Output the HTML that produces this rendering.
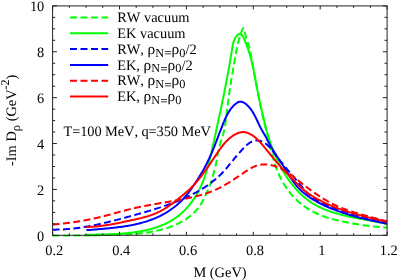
<!DOCTYPE html>
<html><head><meta charset="utf-8"><title>plot</title>
<style>
html,body{margin:0;padding:0;background:#fff;}
body{width:399px;height:280px;position:relative;overflow:hidden;font-family:"Liberation Serif",serif;}
svg text{font-family:"Liberation Serif",serif;fill:#000;font-kerning:none;text-rendering:geometricPrecision;}
</style></head><body>
<svg width="399" height="280" viewBox="0 0 399 280" style="position:absolute;left:0;top:0;will-change:transform">
<defs><clipPath id="c"><rect x="52.6" y="5.9" width="334.5" height="230.8"/></clipPath></defs>
<g clip-path="url(#c)" fill="none" stroke-width="2" stroke-linejoin="round">
<path d="M52.5,235.9 L53.7,235.9 L55.0,235.8 L56.2,235.8 L57.5,235.8 L58.7,235.8 L60.0,235.8 L61.2,235.8 L62.4,235.8 L63.7,235.7 L64.9,235.7 L66.2,235.7 L67.4,235.7 L68.6,235.7 L69.9,235.7 L71.1,235.7 L72.4,235.7 L73.6,235.6 L74.8,235.6 L76.1,235.6 L77.3,235.6 L78.6,235.6 L79.8,235.6 L81.0,235.6 L82.3,235.6 L83.5,235.5 L84.8,235.5 L86.0,235.5 L87.2,235.5 L88.5,235.5 L89.7,235.5 L91.0,235.4 L92.2,235.4 L93.4,235.4 L94.7,235.4 L95.9,235.4 L97.1,235.3 L98.4,235.3 L99.6,235.3 L100.9,235.2 L102.1,235.2 L103.3,235.2 L104.6,235.2 L105.8,235.1 L107.1,235.1 L108.3,235.1 L109.5,235.0 L110.8,235.0 L112.0,234.9 L113.3,234.9 L114.5,234.9 L115.7,234.8 L117.0,234.8 L118.2,234.7 L119.5,234.7 L120.7,234.6 L122.0,234.6 L123.2,234.5 L124.4,234.4 L125.7,234.4 L126.9,234.3 L128.2,234.3 L129.4,234.2 L130.7,234.1 L131.9,234.0 L133.1,233.9 L134.4,233.8 L135.6,233.7 L136.9,233.6 L138.1,233.5 L139.3,233.4 L140.6,233.3 L141.8,233.2 L143.0,233.0 L144.3,232.9 L145.5,232.7 L146.7,232.5 L148.0,232.4 L149.2,232.2 L150.4,232.0 L151.6,231.8 L152.8,231.6 L154.0,231.3 L155.3,231.1 L156.5,230.8 L157.7,230.6 L158.9,230.3 L160.1,230.0 L161.3,229.7 L162.5,229.4 L163.6,229.1 L164.8,228.7 L166.0,228.4 L167.2,228.0 L168.4,227.6 L169.5,227.2 L170.7,226.7 L171.9,226.3 L173.0,225.8 L174.2,225.4 L175.3,224.9 L176.4,224.4 L177.6,223.8 L178.7,223.3 L179.8,222.7 L180.9,222.1 L182.0,221.5 L183.1,220.9 L184.2,220.2 L185.3,219.6 L186.3,218.9 L187.3,218.2 L188.4,217.4 L189.4,216.7 L190.3,215.9 L191.3,215.1 L192.2,214.3 L193.2,213.5 L194.1,212.6 L194.9,211.8 L195.8,210.9 L196.6,210.0 L197.4,209.0 L198.2,208.1 L198.9,207.1 L199.6,206.1 L200.3,205.0 L201.0,204.0 L201.6,202.9 L202.2,201.8 L202.8,200.8 L203.4,199.7 L204.0,198.6 L204.6,197.5 L205.1,196.3 L205.6,195.2 L206.2,194.1 L206.7,193.0 L207.2,191.8 L207.7,190.7 L208.2,189.6 L208.6,188.4 L209.1,187.3 L209.5,186.1 L209.9,184.9 L210.4,183.8 L210.8,182.6 L211.2,181.4 L211.6,180.2 L212.0,179.1 L212.3,177.9 L212.7,176.7 L213.0,175.5 L213.4,174.3 L213.7,173.1 L214.0,171.9 L214.3,170.7 L214.6,169.5 L214.9,168.3 L215.2,167.1 L215.5,165.9 L215.8,164.7 L216.0,163.5 L216.3,162.2 L216.5,161.0 L216.8,159.8 L217.0,158.6 L217.2,157.4 L217.4,156.1 L217.7,154.9 L217.9,153.7 L218.1,152.5 L218.4,151.3 L218.6,150.1 L218.9,148.8 L219.1,147.6 L219.4,146.4 L219.7,145.2 L220.1,144.0 L220.4,142.8 L220.8,141.6 L221.2,140.5 L221.5,139.3 L221.9,138.1 L222.3,136.9 L222.7,135.7 L223.0,134.5 L223.4,133.3 L223.7,132.1 L224.0,130.9 L224.3,129.7 L224.5,128.5 L224.8,127.3 L225.0,126.1 L225.2,124.9 L225.4,123.7 L225.6,122.4 L225.7,121.2 L225.9,120.0 L226.1,118.8 L226.2,117.5 L226.3,116.3 L226.5,115.1 L226.6,113.8 L226.8,112.6 L226.9,111.4 L227.0,110.1 L227.2,108.9 L227.3,107.6 L227.5,106.4 L227.6,105.2 L227.8,103.9 L227.9,102.7 L228.1,101.5 L228.3,100.2 L228.4,99.0 L228.6,97.8 L228.8,96.5 L229.0,95.3 L229.1,94.1 L229.3,92.8 L229.5,91.6 L229.7,90.4 L229.9,89.1 L230.1,87.9 L230.3,86.7 L230.5,85.4 L230.7,84.2 L230.9,83.0 L231.0,81.7 L231.2,80.5 L231.4,79.3 L231.7,78.1 L231.9,76.8 L232.1,75.6 L232.3,74.4 L232.5,73.2 L232.7,71.9 L232.9,70.7 L233.1,69.5 L233.3,68.3 L233.5,67.1 L233.7,65.9 L233.9,64.7 L234.1,63.4 L234.3,62.2 L234.5,61.0 L234.7,59.8 L235.0,58.6 L235.2,57.4 L235.4,56.2 L235.6,55.0 L235.8,53.8 L236.0,52.6 L236.3,51.4 L236.5,50.2 L236.7,49.0 L237.0,47.7 L237.3,46.5 L237.5,45.3 L237.8,44.1 L238.1,42.9 L238.4,41.7 L238.8,40.4 L239.1,39.2 L239.5,37.9 L239.8,36.7 L240.2,35.5 L240.6,34.2 L241.1,32.9 L241.5,31.7 L242.0,30.4 L242.5,29.3 L242.9,28.5 L243.3,28.1 L243.7,28.3 L244.0,28.9 L244.3,30.0 L244.6,31.3 L244.9,32.8 L245.2,34.3 L245.6,35.8 L245.9,37.1 L246.3,38.4 L246.7,39.6 L247.2,40.8 L247.6,41.9 L248.0,43.1 L248.4,44.2 L248.7,45.3 L249.1,46.5 L249.4,47.7 L249.7,48.9 L250.0,50.0 L250.2,51.3 L250.5,52.5 L250.7,53.7 L251.0,54.9 L251.2,56.1 L251.4,57.4 L251.7,58.6 L251.9,59.8 L252.1,61.0 L252.3,62.3 L252.6,63.5 L252.8,64.7 L253.0,65.9 L253.2,67.2 L253.4,68.4 L253.6,69.6 L253.9,70.8 L254.1,72.1 L254.3,73.3 L254.5,74.5 L254.7,75.7 L255.0,77.0 L255.2,78.2 L255.4,79.4 L255.6,80.6 L255.8,81.8 L256.0,83.1 L256.3,84.3 L256.5,85.5 L256.7,86.7 L256.9,87.9 L257.2,89.2 L257.4,90.4 L257.6,91.6 L257.9,92.8 L258.1,94.0 L258.3,95.2 L258.6,96.5 L258.8,97.7 L259.0,98.9 L259.3,100.1 L259.5,101.3 L259.8,102.5 L260.0,103.7 L260.3,105.0 L260.6,106.2 L260.8,107.4 L261.1,108.6 L261.3,109.8 L261.6,111.0 L261.9,112.2 L262.2,113.4 L262.4,114.6 L262.7,115.8 L263.0,117.1 L263.3,118.3 L263.6,119.5 L263.8,120.7 L264.1,121.9 L264.4,123.1 L264.7,124.3 L265.0,125.5 L265.3,126.7 L265.6,127.9 L265.9,129.1 L266.2,130.3 L266.5,131.5 L266.8,132.7 L267.1,133.9 L267.4,135.1 L267.7,136.3 L268.0,137.5 L268.3,138.8 L268.6,140.0 L269.0,141.2 L269.3,142.4 L269.6,143.6 L269.9,144.8 L270.2,146.0 L270.5,147.2 L270.8,148.4 L271.1,149.6 L271.4,150.8 L271.7,152.0 L272.0,153.2 L272.3,154.4 L272.6,155.6 L272.9,156.7 L273.2,157.9 L273.5,159.1 L273.8,160.3 L274.2,161.5 L274.5,162.7 L274.9,163.9 L275.3,165.0 L275.7,166.2 L276.1,167.4 L276.5,168.6 L276.9,169.7 L277.4,170.9 L277.9,172.0 L278.4,173.2 L278.9,174.3 L279.4,175.5 L279.9,176.6 L280.4,177.7 L281.0,178.8 L281.6,179.9 L282.2,181.0 L282.8,182.1 L283.4,183.2 L284.1,184.3 L284.7,185.3 L285.4,186.4 L286.1,187.4 L286.8,188.5 L287.5,189.5 L288.2,190.5 L289.0,191.5 L289.7,192.4 L290.5,193.4 L291.3,194.4 L292.1,195.3 L292.9,196.2 L293.8,197.1 L294.6,198.0 L295.5,198.9 L296.4,199.8 L297.3,200.6 L298.2,201.5 L299.1,202.3 L300.1,203.1 L301.0,203.9 L302.0,204.6 L303.0,205.4 L304.0,206.1 L305.0,206.8 L306.0,207.5 L307.0,208.2 L308.1,208.9 L309.1,209.5 L310.2,210.1 L311.3,210.7 L312.4,211.3 L313.5,211.9 L314.6,212.4 L315.7,213.0 L316.8,213.5 L317.9,214.0 L319.1,214.5 L320.2,215.0 L321.4,215.4 L322.5,215.8 L323.7,216.3 L324.9,216.7 L326.0,217.1 L327.2,217.5 L328.4,217.9 L329.6,218.2 L330.8,218.6 L332.0,218.9 L333.2,219.2 L334.4,219.6 L335.6,219.9 L336.8,220.2 L338.0,220.5 L339.3,220.8 L340.5,221.0 L341.7,221.3 L342.9,221.6 L344.1,221.8 L345.4,222.1 L346.6,222.3 L347.8,222.6 L349.0,222.8 L350.2,223.0 L351.5,223.3 L352.7,223.5 L353.9,223.7 L355.1,223.9 L356.3,224.1 L357.5,224.3 L358.8,224.5 L360.0,224.7 L361.2,224.9 L362.4,225.0 L363.7,225.2 L364.9,225.4 L366.1,225.5 L367.3,225.7 L368.5,225.9 L369.8,226.0 L371.0,226.1 L372.2,226.3 L373.5,226.4 L374.7,226.6 L375.9,226.7 L377.2,226.8 L378.4,226.9 L379.6,227.0 L380.9,227.1 L382.1,227.2 L383.4,227.3 L384.6,227.4 L385.9,227.5 L387.1,227.6" stroke="#00ff00" stroke-dasharray="6.95 3.47"/>
<path d="M86.3,234.9 L87.4,234.9 L88.6,234.8 L89.7,234.8 L90.8,234.8 L91.9,234.8 L93.1,234.7 L94.2,234.7 L95.3,234.7 L96.5,234.6 L97.6,234.6 L98.7,234.6 L99.8,234.6 L100.9,234.5 L102.0,234.5 L103.2,234.5 L104.3,234.4 L105.4,234.4 L106.5,234.4 L107.6,234.3 L108.7,234.3 L109.8,234.3 L110.9,234.2 L112.1,234.2 L113.2,234.1 L114.3,234.1 L115.4,234.0 L116.5,233.9 L117.6,233.9 L118.7,233.8 L119.8,233.7 L120.9,233.7 L122.0,233.6 L123.2,233.5 L124.3,233.4 L125.4,233.3 L126.5,233.2 L127.6,233.1 L128.7,233.0 L129.8,232.8 L131.0,232.7 L132.1,232.6 L133.2,232.4 L134.3,232.3 L135.4,232.1 L136.6,232.0 L137.7,231.8 L138.8,231.6 L139.9,231.4 L141.0,231.2 L142.1,231.0 L143.3,230.8 L144.4,230.6 L145.5,230.3 L146.6,230.1 L147.7,229.8 L148.8,229.5 L149.9,229.3 L151.0,229.0 L152.1,228.7 L153.1,228.4 L154.2,228.0 L155.3,227.7 L156.4,227.4 L157.4,227.0 L158.5,226.6 L159.5,226.2 L160.6,225.8 L161.6,225.4 L162.6,225.0 L163.7,224.6 L164.7,224.1 L165.7,223.6 L166.7,223.2 L167.7,222.7 L168.7,222.1 L169.7,221.6 L170.6,221.1 L171.6,220.5 L172.5,219.9 L173.5,219.3 L174.4,218.7 L175.3,218.1 L176.2,217.5 L177.1,216.8 L178.0,216.1 L178.9,215.4 L179.8,214.7 L180.6,214.0 L181.5,213.3 L182.3,212.5 L183.1,211.7 L183.9,211.0 L184.7,210.2 L185.5,209.4 L186.3,208.5 L187.0,207.7 L187.8,206.9 L188.5,206.0 L189.2,205.1 L190.0,204.3 L190.6,203.4 L191.3,202.5 L192.0,201.6 L192.7,200.7 L193.3,199.7 L194.0,198.8 L194.6,197.9 L195.2,196.9 L195.8,196.0 L196.4,195.0 L196.9,194.0 L197.5,193.1 L198.0,192.1 L198.6,191.1 L199.1,190.1 L199.6,189.1 L200.1,188.1 L200.5,187.1 L201.0,186.1 L201.5,185.1 L201.9,184.0 L202.3,183.0 L202.8,182.0 L203.2,180.9 L203.6,179.9 L204.0,178.8 L204.4,177.8 L204.7,176.7 L205.1,175.7 L205.5,174.6 L205.8,173.6 L206.2,172.5 L206.5,171.4 L206.8,170.4 L207.1,169.3 L207.4,168.2 L207.8,167.1 L208.1,166.0 L208.3,165.0 L208.6,163.9 L208.9,162.8 L209.2,161.7 L209.5,160.6 L209.7,159.5 L210.0,158.4 L210.3,157.3 L210.5,156.2 L210.8,155.1 L211.0,154.0 L211.3,152.9 L211.5,151.8 L211.8,150.7 L212.0,149.6 L212.3,148.5 L212.5,147.4 L212.8,146.3 L213.0,145.2 L213.2,144.1 L213.5,143.0 L213.7,141.9 L214.0,140.8 L214.2,139.7 L214.4,138.7 L214.7,137.6 L214.9,136.5 L215.2,135.4 L215.4,134.3 L215.6,133.2 L215.9,132.1 L216.1,131.0 L216.3,129.9 L216.6,128.8 L216.8,127.7 L217.1,126.6 L217.3,125.5 L217.5,124.4 L217.8,123.4 L218.0,122.3 L218.2,121.2 L218.5,120.1 L218.7,119.0 L218.9,117.9 L219.2,116.8 L219.4,115.7 L219.6,114.6 L219.9,113.5 L220.1,112.4 L220.3,111.4 L220.6,110.3 L220.8,109.2 L221.0,108.1 L221.3,107.0 L221.5,105.9 L221.7,104.8 L221.9,103.7 L222.2,102.6 L222.4,101.5 L222.6,100.4 L222.8,99.3 L223.1,98.3 L223.3,97.2 L223.5,96.1 L223.7,95.0 L224.0,93.9 L224.2,92.8 L224.4,91.7 L224.6,90.6 L224.8,89.5 L225.0,88.4 L225.3,87.3 L225.5,86.2 L225.7,85.1 L225.9,84.0 L226.1,82.9 L226.3,81.8 L226.5,80.7 L226.8,79.6 L227.0,78.5 L227.2,77.4 L227.4,76.3 L227.6,75.2 L227.8,74.1 L228.0,73.0 L228.2,71.9 L228.4,70.8 L228.6,69.6 L228.8,68.5 L229.0,67.4 L229.2,66.3 L229.4,65.2 L229.6,64.1 L229.8,63.0 L230.0,61.8 L230.2,60.7 L230.4,59.6 L230.5,58.5 L230.7,57.4 L230.9,56.2 L231.1,55.1 L231.3,54.0 L231.5,52.9 L231.7,51.7 L231.8,50.6 L232.0,49.5 L232.2,48.3 L232.4,47.2 L232.6,46.1 L232.8,45.0 L233.0,43.9 L233.3,42.8 L233.6,41.8 L234.0,40.7 L234.4,39.7 L234.8,38.7 L235.3,37.8 L235.9,36.9 L236.6,36.1 L237.3,35.3 L238.1,34.5 L239.0,34.1 L240.0,34.0 L241.0,34.4 L241.9,35.1 L242.6,35.9 L243.3,36.9 L243.8,38.0 L244.2,39.2 L244.7,40.3 L245.1,41.4 L245.5,42.5 L246.0,43.5 L246.4,44.6 L246.8,45.6 L247.2,46.7 L247.6,47.7 L248.0,48.7 L248.3,49.8 L248.7,50.8 L249.0,51.9 L249.3,52.9 L249.7,54.0 L250.0,55.0 L250.3,56.1 L250.6,57.2 L250.9,58.2 L251.1,59.3 L251.4,60.4 L251.7,61.5 L251.9,62.6 L252.2,63.6 L252.4,64.7 L252.7,65.8 L252.9,66.9 L253.1,68.0 L253.3,69.1 L253.6,70.2 L253.8,71.3 L254.0,72.4 L254.2,73.5 L254.4,74.6 L254.6,75.7 L254.9,76.8 L255.1,77.9 L255.3,79.0 L255.5,80.1 L255.7,81.2 L255.9,82.3 L256.1,83.4 L256.3,84.5 L256.6,85.6 L256.8,86.8 L257.0,87.9 L257.2,89.0 L257.4,90.1 L257.6,91.2 L257.9,92.3 L258.1,93.4 L258.3,94.5 L258.5,95.6 L258.7,96.7 L259.0,97.8 L259.2,98.9 L259.4,99.9 L259.6,101.0 L259.9,102.1 L260.1,103.2 L260.3,104.3 L260.6,105.4 L260.8,106.5 L261.1,107.6 L261.3,108.7 L261.5,109.8 L261.8,110.9 L262.0,112.0 L262.3,113.1 L262.5,114.2 L262.8,115.3 L263.0,116.4 L263.3,117.4 L263.6,118.5 L263.8,119.6 L264.1,120.7 L264.4,121.8 L264.6,122.9 L264.9,124.0 L265.2,125.1 L265.5,126.1 L265.8,127.2 L266.1,128.3 L266.3,129.4 L266.6,130.5 L266.9,131.5 L267.3,132.6 L267.6,133.7 L267.9,134.7 L268.2,135.8 L268.5,136.9 L268.9,138.0 L269.2,139.0 L269.5,140.1 L269.9,141.1 L270.2,142.2 L270.6,143.3 L271.0,144.3 L271.3,145.4 L271.7,146.4 L272.1,147.5 L272.5,148.5 L272.9,149.6 L273.3,150.6 L273.7,151.6 L274.1,152.7 L274.5,153.7 L275.0,154.8 L275.4,155.8 L275.8,156.8 L276.3,157.8 L276.7,158.9 L277.2,159.9 L277.7,160.9 L278.2,161.9 L278.7,162.9 L279.2,163.9 L279.7,164.9 L280.2,165.9 L280.7,166.9 L281.2,167.9 L281.8,168.9 L282.3,169.9 L282.9,170.9 L283.5,171.8 L284.0,172.8 L284.6,173.8 L285.2,174.7 L285.8,175.7 L286.4,176.6 L287.1,177.6 L287.7,178.5 L288.3,179.4 L289.0,180.4 L289.6,181.3 L290.3,182.2 L291.0,183.1 L291.7,184.0 L292.4,184.8 L293.1,185.7 L293.8,186.6 L294.5,187.4 L295.2,188.3 L296.0,189.1 L296.7,190.0 L297.5,190.8 L298.3,191.6 L299.0,192.4 L299.8,193.2 L300.6,193.9 L301.4,194.7 L302.3,195.4 L303.1,196.2 L303.9,196.9 L304.8,197.6 L305.6,198.3 L306.5,199.0 L307.4,199.7 L308.3,200.4 L309.2,201.0 L310.1,201.7 L311.0,202.3 L311.9,202.9 L312.9,203.5 L313.8,204.1 L314.8,204.6 L315.7,205.2 L316.7,205.7 L317.7,206.2 L318.7,206.8 L319.7,207.2 L320.7,207.7 L321.8,208.2 L322.8,208.6 L323.8,209.1 L324.9,209.5 L325.9,209.9 L327.0,210.3 L328.0,210.7 L329.1,211.1 L330.2,211.5 L331.3,211.9 L332.3,212.2 L333.4,212.5 L334.5,212.9 L335.6,213.2 L336.7,213.5 L337.8,213.8 L338.9,214.1 L340.0,214.4 L341.1,214.7 L342.2,215.0 L343.3,215.3 L344.4,215.5 L345.5,215.8 L346.6,216.0 L347.6,216.3 L348.7,216.5 L349.8,216.8 L350.9,217.0 L352.0,217.2 L353.1,217.5 L354.2,217.7 L355.3,217.9 L356.4,218.1 L357.4,218.3 L358.5,218.5 L359.6,218.7 L360.7,218.9 L361.8,219.1 L362.9,219.3 L364.0,219.5 L365.1,219.7 L366.2,219.9 L367.2,220.1 L368.3,220.3 L369.4,220.5 L370.5,220.7 L371.6,220.9 L372.7,221.1 L373.8,221.3 L374.9,221.5 L376.0,221.7 L377.1,221.9 L378.2,222.2 L379.3,222.4 L380.4,222.6 L381.5,222.8 L382.7,223.0 L383.8,223.2 L384.9,223.5 L386.0,223.7 L387.1,223.9" stroke="#00ff00"/>
<path d="M52.6,229.7 L53.4,229.7 L54.1,229.7 L54.9,229.7 L55.7,229.7 L56.5,229.6 L57.3,229.6 L58.1,229.6 L58.9,229.6 L59.7,229.6 L60.5,229.5 L61.2,229.5 L62.0,229.5 L62.8,229.4 L63.6,229.4 L64.4,229.3 L65.2,229.3 L66.0,229.2 L66.7,229.1 L67.5,229.1 L68.3,229.0 L69.1,228.9 L69.9,228.9 L70.6,228.8 L71.4,228.7 L72.2,228.6 L73.0,228.6 L73.7,228.5 L74.5,228.4 L75.3,228.3 L76.1,228.2 L76.9,228.1 L77.6,228.0 L78.4,227.9 L79.2,227.8 L79.9,227.7 L80.7,227.5 L81.5,227.4 L82.3,227.3 L83.0,227.2 L83.8,227.1 L84.6,226.9 L85.3,226.8 L86.1,226.7 L86.9,226.5 L87.7,226.4 L88.4,226.3 L89.2,226.1 L90.0,226.0 L90.7,225.8 L91.5,225.7 L92.3,225.5 L93.0,225.4 L93.8,225.2 L94.5,225.1 L95.3,224.9 L96.1,224.8 L96.8,224.6 L97.6,224.4 L98.4,224.3 L99.1,224.1 L99.9,223.9 L100.7,223.8 L101.4,223.6 L102.2,223.4 L102.9,223.3 L103.7,223.1 L104.5,222.9 L105.2,222.7 L106.0,222.5 L106.7,222.4 L107.5,222.2 L108.3,222.0 L109.0,221.8 L109.8,221.6 L110.5,221.4 L111.3,221.2 L112.1,221.1 L112.8,220.9 L113.6,220.7 L114.3,220.5 L115.1,220.3 L115.9,220.1 L116.6,219.9 L117.4,219.7 L118.1,219.5 L118.9,219.3 L119.6,219.1 L120.4,218.9 L121.2,218.7 L121.9,218.5 L122.7,218.3 L123.4,218.1 L124.2,217.9 L124.9,217.7 L125.7,217.5 L126.4,217.3 L127.2,217.1 L128.0,216.8 L128.7,216.6 L129.5,216.4 L130.2,216.2 L131.0,216.0 L131.7,215.8 L132.5,215.6 L133.3,215.4 L134.0,215.2 L134.8,215.0 L135.5,214.8 L136.3,214.6 L137.0,214.3 L137.8,214.1 L138.5,213.9 L139.3,213.7 L140.0,213.5 L140.8,213.3 L141.6,213.1 L142.3,212.9 L143.1,212.6 L143.8,212.4 L144.6,212.2 L145.3,212.0 L146.1,211.8 L146.8,211.5 L147.6,211.3 L148.3,211.1 L149.1,210.9 L149.8,210.7 L150.6,210.4 L151.3,210.2 L152.1,210.0 L152.8,209.7 L153.6,209.5 L154.3,209.3 L155.1,209.0 L155.8,208.8 L156.6,208.6 L157.3,208.3 L158.1,208.1 L158.8,207.9 L159.5,207.6 L160.3,207.4 L161.0,207.1 L161.8,206.9 L162.5,206.6 L163.3,206.4 L164.0,206.1 L164.7,205.9 L165.5,205.6 L166.2,205.3 L167.0,205.1 L167.7,204.8 L168.4,204.6 L169.2,204.3 L169.9,204.0 L170.6,203.8 L171.4,203.5 L172.1,203.2 L172.8,202.9 L173.5,202.6 L174.3,202.4 L175.0,202.1 L175.7,201.8 L176.5,201.5 L177.2,201.2 L177.9,200.9 L178.6,200.6 L179.4,200.3 L180.1,200.0 L180.8,199.7 L181.5,199.4 L182.2,199.1 L182.9,198.8 L183.7,198.5 L184.4,198.1 L185.1,197.8 L185.8,197.5 L186.5,197.2 L187.2,196.8 L187.9,196.5 L188.6,196.2 L189.3,195.8 L190.0,195.5 L190.7,195.1 L191.4,194.8 L192.1,194.4 L192.8,194.1 L193.5,193.7 L194.2,193.4 L194.9,193.0 L195.6,192.6 L196.3,192.3 L197.0,191.9 L197.7,191.5 L198.3,191.1 L199.0,190.7 L199.7,190.3 L200.4,189.9 L201.0,189.5 L201.7,189.1 L202.4,188.7 L203.0,188.3 L203.7,187.9 L204.4,187.5 L205.0,187.1 L205.7,186.6 L206.3,186.2 L207.0,185.8 L207.6,185.3 L208.2,184.9 L208.9,184.4 L209.5,184.0 L210.1,183.5 L210.8,183.0 L211.4,182.6 L212.0,182.1 L212.6,181.6 L213.2,181.1 L213.8,180.6 L214.5,180.1 L215.1,179.6 L215.7,179.1 L216.2,178.6 L216.8,178.1 L217.4,177.6 L218.0,177.1 L218.6,176.5 L219.1,176.0 L219.7,175.5 L220.3,174.9 L220.8,174.4 L221.4,173.8 L221.9,173.2 L222.5,172.7 L223.0,172.1 L223.6,171.5 L224.1,170.9 L224.6,170.4 L225.1,169.8 L225.7,169.2 L226.2,168.6 L226.7,168.0 L227.2,167.4 L227.7,166.8 L228.2,166.1 L228.7,165.5 L229.2,164.9 L229.7,164.3 L230.2,163.7 L230.7,163.1 L231.2,162.5 L231.7,161.9 L232.2,161.3 L232.7,160.7 L233.2,160.1 L233.6,159.5 L234.1,158.9 L234.6,158.3 L235.1,157.7 L235.6,157.1 L236.1,156.5 L236.6,155.9 L237.1,155.3 L237.6,154.7 L238.1,154.2 L238.6,153.6 L239.1,153.0 L239.7,152.4 L240.2,151.8 L240.7,151.2 L241.2,150.7 L241.8,150.1 L242.3,149.5 L242.9,148.9 L243.4,148.3 L244.0,147.7 L244.5,147.1 L245.1,146.6 L245.7,146.0 L246.3,145.5 L246.9,144.9 L247.5,144.4 L248.1,143.9 L248.7,143.4 L249.3,143.0 L250.0,142.6 L250.6,142.2 L251.3,141.8 L252.0,141.5 L252.7,141.2 L253.4,141.0 L254.1,140.8 L254.8,140.7 L255.6,140.6 L256.4,140.5 L257.1,140.5 L257.9,140.6 L258.7,140.7 L259.5,140.8 L260.3,141.0 L261.0,141.2 L261.8,141.5 L262.5,141.8 L263.2,142.1 L263.9,142.5 L264.6,142.9 L265.2,143.3 L265.9,143.8 L266.5,144.2 L267.1,144.7 L267.6,145.2 L268.2,145.8 L268.7,146.3 L269.3,146.9 L269.8,147.5 L270.3,148.1 L270.8,148.7 L271.3,149.3 L271.8,149.9 L272.3,150.5 L272.8,151.2 L273.3,151.8 L273.8,152.5 L274.2,153.1 L274.7,153.8 L275.2,154.4 L275.7,155.0 L276.1,155.7 L276.6,156.3 L277.1,156.9 L277.6,157.6 L278.1,158.2 L278.5,158.8 L279.0,159.4 L279.5,160.0 L280.0,160.7 L280.5,161.3 L281.0,161.9 L281.5,162.5 L282.0,163.1 L282.5,163.7 L283.0,164.3 L283.4,164.9 L283.9,165.5 L284.4,166.1 L284.9,166.7 L285.4,167.3 L285.9,167.9 L286.4,168.5 L286.9,169.1 L287.4,169.7 L287.9,170.3 L288.4,170.8 L288.9,171.4 L289.4,172.0 L289.9,172.6 L290.4,173.2 L291.0,173.8 L291.5,174.4 L292.0,175.0 L292.5,175.6 L293.0,176.2 L293.5,176.8 L294.0,177.3 L294.5,177.9 L295.0,178.5 L295.5,179.1 L296.0,179.7 L296.5,180.3 L297.0,180.9 L297.5,181.5 L298.0,182.1 L298.6,182.7 L299.1,183.3 L299.6,183.9 L300.1,184.6 L300.6,185.2 L301.1,185.8 L301.6,186.4 L302.1,187.0 L302.6,187.6 L303.0,188.2 L303.5,188.8 L304.0,189.4 L304.5,190.0 L305.0,190.6 L305.5,191.2 L306.0,191.8 L306.6,192.3 L307.1,192.9 L307.7,193.4 L308.3,193.9 L308.9,194.4 L309.5,194.9 L310.1,195.4 L310.7,195.9 L311.3,196.4 L311.9,196.8 L312.6,197.3 L313.2,197.7 L313.9,198.1 L314.6,198.5 L315.2,199.0 L315.9,199.4 L316.6,199.8 L317.2,200.2 L317.9,200.5 L318.6,200.9 L319.3,201.3 L320.0,201.7 L320.7,202.0 L321.4,202.4 L322.1,202.7 L322.8,203.1 L323.5,203.4 L324.2,203.8 L324.9,204.1 L325.6,204.4 L326.3,204.7 L327.0,205.0 L327.8,205.4 L328.5,205.7 L329.2,206.0 L329.9,206.3 L330.7,206.6 L331.4,206.8 L332.1,207.1 L332.9,207.4 L333.6,207.7 L334.3,208.0 L335.1,208.2 L335.8,208.5 L336.5,208.8 L337.3,209.1 L338.0,209.3 L338.7,209.6 L339.5,209.8 L340.2,210.1 L341.0,210.3 L341.7,210.6 L342.4,210.8 L343.2,211.1 L343.9,211.3 L344.7,211.6 L345.4,211.8 L346.2,212.0 L346.9,212.3 L347.7,212.5 L348.4,212.7 L349.2,213.0 L349.9,213.2 L350.7,213.4 L351.4,213.6 L352.2,213.9 L352.9,214.1 L353.7,214.3 L354.4,214.5 L355.2,214.7 L355.9,214.9 L356.7,215.1 L357.4,215.3 L358.2,215.5 L358.9,215.7 L359.7,215.9 L360.5,216.1 L361.2,216.3 L362.0,216.5 L362.7,216.7 L363.5,216.9 L364.2,217.1 L365.0,217.3 L365.8,217.5 L366.5,217.7 L367.3,217.9 L368.0,218.1 L368.8,218.3 L369.6,218.4 L370.3,218.6 L371.1,218.8 L371.8,219.0 L372.6,219.2 L373.4,219.4 L374.1,219.5 L374.9,219.7 L375.6,219.9 L376.4,220.1 L377.2,220.3 L377.9,220.4 L378.7,220.6 L379.5,220.8 L380.2,221.0 L381.0,221.1 L381.8,221.3 L382.5,221.5 L383.3,221.7 L384.0,221.8 L384.8,222.0 L385.6,222.2 L386.3,222.3 L387.1,222.5" stroke="#0000ff" stroke-dasharray="6.95 3.47"/>
<path d="M86.4,230.2 L87.2,230.1 L88.0,230.1 L88.8,230.0 L89.6,229.9 L90.5,229.9 L91.3,229.8 L92.1,229.7 L93.0,229.7 L93.8,229.6 L94.6,229.5 L95.5,229.4 L96.3,229.4 L97.1,229.3 L98.0,229.2 L98.8,229.2 L99.7,229.1 L100.5,229.0 L101.4,228.9 L102.2,228.9 L103.0,228.8 L103.9,228.7 L104.7,228.7 L105.6,228.6 L106.4,228.5 L107.3,228.4 L108.1,228.3 L109.0,228.3 L109.8,228.2 L110.6,228.1 L111.5,228.0 L112.3,227.9 L113.2,227.8 L114.0,227.7 L114.9,227.6 L115.7,227.5 L116.6,227.4 L117.4,227.3 L118.3,227.2 L119.1,227.1 L120.0,227.0 L120.8,226.9 L121.6,226.8 L122.5,226.7 L123.3,226.5 L124.2,226.4 L125.0,226.3 L125.9,226.1 L126.7,226.0 L127.5,225.9 L128.4,225.7 L129.2,225.6 L130.0,225.4 L130.9,225.3 L131.7,225.1 L132.5,224.9 L133.4,224.8 L134.2,224.6 L135.0,224.4 L135.9,224.2 L136.7,224.1 L137.5,223.9 L138.3,223.7 L139.1,223.5 L140.0,223.3 L140.8,223.0 L141.6,222.8 L142.4,222.6 L143.2,222.4 L144.0,222.1 L144.8,221.9 L145.6,221.7 L146.4,221.4 L147.2,221.2 L148.0,220.9 L148.8,220.6 L149.6,220.3 L150.4,220.1 L151.2,219.8 L152.0,219.5 L152.8,219.2 L153.6,218.9 L154.3,218.6 L155.1,218.2 L155.9,217.9 L156.7,217.6 L157.4,217.2 L158.2,216.9 L158.9,216.5 L159.7,216.2 L160.5,215.8 L161.2,215.4 L162.0,215.0 L162.7,214.6 L163.4,214.2 L164.2,213.8 L164.9,213.4 L165.6,213.0 L166.4,212.5 L167.1,212.1 L167.8,211.6 L168.5,211.2 L169.2,210.7 L169.9,210.2 L170.6,209.8 L171.3,209.3 L172.0,208.8 L172.7,208.3 L173.4,207.8 L174.0,207.3 L174.7,206.8 L175.4,206.2 L176.0,205.7 L176.7,205.2 L177.3,204.6 L178.0,204.0 L178.6,203.5 L179.2,202.9 L179.8,202.3 L180.4,201.8 L181.1,201.2 L181.7,200.6 L182.2,200.0 L182.8,199.4 L183.4,198.7 L184.0,198.1 L184.5,197.5 L185.1,196.8 L185.6,196.2 L186.2,195.5 L186.7,194.9 L187.3,194.2 L187.8,193.6 L188.3,192.9 L188.8,192.2 L189.3,191.5 L189.8,190.9 L190.3,190.2 L190.8,189.5 L191.3,188.8 L191.8,188.1 L192.3,187.4 L192.7,186.7 L193.2,186.0 L193.7,185.3 L194.2,184.6 L194.7,183.9 L195.1,183.2 L195.6,182.5 L196.1,181.8 L196.5,181.1 L197.0,180.4 L197.5,179.6 L197.9,178.9 L198.4,178.2 L198.8,177.5 L199.3,176.8 L199.7,176.1 L200.2,175.3 L200.6,174.6 L201.0,173.9 L201.5,173.2 L201.9,172.4 L202.3,171.7 L202.8,171.0 L203.2,170.3 L203.6,169.5 L204.0,168.8 L204.4,168.0 L204.8,167.3 L205.2,166.6 L205.6,165.8 L206.0,165.1 L206.4,164.3 L206.8,163.6 L207.1,162.8 L207.5,162.1 L207.9,161.3 L208.2,160.6 L208.6,159.8 L209.0,159.0 L209.3,158.3 L209.7,157.5 L210.0,156.7 L210.3,156.0 L210.7,155.2 L211.0,154.4 L211.4,153.7 L211.7,152.9 L212.0,152.1 L212.3,151.3 L212.7,150.6 L213.0,149.8 L213.3,149.0 L213.6,148.2 L213.9,147.4 L214.3,146.7 L214.6,145.9 L214.9,145.1 L215.2,144.3 L215.5,143.5 L215.8,142.7 L216.1,141.9 L216.4,141.1 L216.7,140.4 L217.0,139.6 L217.3,138.8 L217.6,138.0 L217.9,137.2 L218.2,136.4 L218.5,135.6 L218.8,134.8 L219.1,134.0 L219.4,133.2 L219.7,132.4 L220.0,131.6 L220.3,130.9 L220.6,130.1 L220.9,129.3 L221.3,128.5 L221.6,127.7 L221.9,126.9 L222.2,126.1 L222.5,125.3 L222.8,124.5 L223.1,123.7 L223.4,122.9 L223.8,122.1 L224.1,121.4 L224.4,120.6 L224.7,119.8 L225.1,119.0 L225.4,118.2 L225.8,117.5 L226.2,116.7 L226.5,115.9 L226.9,115.2 L227.3,114.4 L227.7,113.7 L228.2,112.9 L228.6,112.2 L229.0,111.5 L229.5,110.8 L230.0,110.1 L230.5,109.4 L231.0,108.7 L231.5,108.0 L232.1,107.3 L232.7,106.7 L233.3,106.0 L233.9,105.4 L234.5,104.8 L235.2,104.2 L235.8,103.7 L236.5,103.2 L237.2,102.7 L237.9,102.3 L238.7,102.0 L239.4,101.8 L240.1,101.7 L240.8,101.7 L241.6,101.8 L242.3,102.0 L243.0,102.3 L243.8,102.6 L244.5,103.0 L245.2,103.5 L245.9,104.0 L246.6,104.6 L247.2,105.2 L247.9,105.8 L248.5,106.5 L249.1,107.1 L249.6,107.8 L250.2,108.4 L250.7,109.1 L251.2,109.8 L251.7,110.5 L252.2,111.2 L252.6,112.0 L253.1,112.7 L253.5,113.4 L254.0,114.2 L254.4,114.9 L254.8,115.7 L255.2,116.4 L255.6,117.2 L255.9,117.9 L256.3,118.7 L256.7,119.5 L257.0,120.2 L257.4,121.0 L257.8,121.8 L258.1,122.6 L258.5,123.3 L258.8,124.1 L259.2,124.9 L259.6,125.6 L259.9,126.4 L260.3,127.1 L260.7,127.9 L261.1,128.6 L261.5,129.4 L261.9,130.1 L262.3,130.8 L262.7,131.6 L263.1,132.3 L263.6,133.0 L264.0,133.7 L264.4,134.4 L264.9,135.2 L265.3,135.9 L265.7,136.6 L266.1,137.4 L266.5,138.1 L266.8,138.9 L267.2,139.7 L267.6,140.4 L268.0,141.2 L268.4,141.9 L268.8,142.7 L269.1,143.4 L269.6,144.2 L270.0,144.9 L270.4,145.6 L270.8,146.4 L271.2,147.1 L271.6,147.8 L272.1,148.5 L272.5,149.3 L272.9,150.0 L273.4,150.7 L273.8,151.4 L274.3,152.1 L274.7,152.8 L275.2,153.5 L275.6,154.2 L276.1,154.9 L276.5,155.6 L277.0,156.3 L277.5,157.1 L277.9,157.8 L278.4,158.5 L278.8,159.2 L279.3,159.9 L279.8,160.6 L280.2,161.3 L280.7,162.0 L281.2,162.7 L281.6,163.4 L282.1,164.1 L282.6,164.8 L283.0,165.5 L283.5,166.2 L283.9,166.9 L284.4,167.7 L284.8,168.4 L285.3,169.1 L285.7,169.8 L286.2,170.6 L286.6,171.3 L287.1,172.0 L287.5,172.7 L288.0,173.5 L288.4,174.2 L288.9,174.9 L289.3,175.7 L289.8,176.4 L290.2,177.1 L290.7,177.8 L291.2,178.5 L291.6,179.2 L292.1,179.9 L292.6,180.6 L293.1,181.3 L293.6,182.0 L294.1,182.7 L294.6,183.4 L295.1,184.0 L295.6,184.7 L296.1,185.3 L296.7,186.0 L297.2,186.6 L297.8,187.2 L298.4,187.8 L298.9,188.4 L299.5,189.0 L300.1,189.6 L300.7,190.2 L301.3,190.8 L301.9,191.3 L302.6,191.9 L303.2,192.4 L303.8,193.0 L304.5,193.5 L305.1,194.0 L305.8,194.5 L306.5,195.0 L307.1,195.5 L307.8,196.0 L308.5,196.5 L309.2,197.0 L309.9,197.5 L310.6,197.9 L311.3,198.4 L312.0,198.8 L312.7,199.3 L313.4,199.7 L314.1,200.2 L314.9,200.6 L315.6,201.0 L316.3,201.4 L317.1,201.8 L317.8,202.3 L318.6,202.7 L319.3,203.0 L320.1,203.4 L320.9,203.8 L321.6,204.2 L322.4,204.6 L323.2,204.9 L323.9,205.3 L324.7,205.7 L325.5,206.0 L326.3,206.4 L327.0,206.7 L327.8,207.0 L328.6,207.4 L329.4,207.7 L330.2,208.0 L331.0,208.3 L331.8,208.7 L332.6,209.0 L333.4,209.3 L334.2,209.6 L335.0,209.9 L335.7,210.2 L336.5,210.5 L337.3,210.8 L338.1,211.1 L338.9,211.4 L339.7,211.6 L340.5,211.9 L341.3,212.2 L342.1,212.5 L342.9,212.7 L343.7,213.0 L344.5,213.3 L345.3,213.5 L346.1,213.8 L346.9,214.0 L347.7,214.3 L348.5,214.5 L349.3,214.8 L350.1,215.0 L350.9,215.2 L351.8,215.5 L352.6,215.7 L353.4,215.9 L354.2,216.2 L355.0,216.4 L355.8,216.6 L356.6,216.8 L357.4,217.1 L358.2,217.3 L359.0,217.5 L359.8,217.7 L360.7,217.9 L361.5,218.1 L362.3,218.3 L363.1,218.5 L363.9,218.7 L364.7,218.9 L365.6,219.1 L366.4,219.3 L367.2,219.5 L368.0,219.7 L368.8,219.9 L369.7,220.1 L370.5,220.2 L371.3,220.4 L372.1,220.6 L372.9,220.8 L373.8,221.0 L374.6,221.1 L375.4,221.3 L376.3,221.5 L377.1,221.7 L377.9,221.8 L378.8,222.0 L379.6,222.2 L380.4,222.3 L381.3,222.5 L382.1,222.7 L382.9,222.8 L383.8,223.0 L384.6,223.1 L385.4,223.3 L386.3,223.5 L387.1,223.6" stroke="#0000ff"/>
<path d="M52.6,224.6 L53.3,224.5 L54.0,224.5 L54.8,224.4 L55.5,224.3 L56.2,224.3 L56.9,224.2 L57.6,224.1 L58.4,224.1 L59.1,224.0 L59.8,223.9 L60.5,223.8 L61.2,223.8 L61.9,223.7 L62.7,223.6 L63.4,223.5 L64.1,223.4 L64.8,223.3 L65.5,223.3 L66.2,223.2 L67.0,223.1 L67.7,223.0 L68.4,222.9 L69.1,222.8 L69.8,222.7 L70.5,222.6 L71.2,222.5 L72.0,222.4 L72.7,222.3 L73.4,222.2 L74.1,222.1 L74.8,222.0 L75.5,221.9 L76.2,221.8 L76.9,221.7 L77.7,221.5 L78.4,221.4 L79.1,221.3 L79.8,221.2 L80.5,221.1 L81.2,221.0 L81.9,220.8 L82.6,220.7 L83.3,220.6 L84.0,220.5 L84.8,220.3 L85.5,220.2 L86.2,220.1 L86.9,219.9 L87.6,219.8 L88.3,219.7 L89.0,219.5 L89.7,219.4 L90.4,219.2 L91.1,219.1 L91.8,218.9 L92.5,218.8 L93.2,218.6 L93.9,218.5 L94.6,218.3 L95.4,218.2 L96.1,218.0 L96.8,217.9 L97.5,217.7 L98.2,217.5 L98.9,217.4 L99.6,217.2 L100.3,217.0 L101.0,216.9 L101.7,216.7 L102.4,216.5 L103.1,216.4 L103.8,216.2 L104.5,216.0 L105.2,215.8 L105.9,215.6 L106.6,215.5 L107.3,215.3 L108.0,215.1 L108.7,214.9 L109.4,214.7 L110.1,214.5 L110.8,214.3 L111.5,214.1 L112.2,213.9 L112.9,213.8 L113.6,213.6 L114.3,213.4 L114.9,213.2 L115.6,213.0 L116.3,212.8 L117.0,212.6 L117.7,212.4 L118.4,212.2 L119.1,212.0 L119.8,211.8 L120.5,211.6 L121.2,211.5 L121.9,211.3 L122.6,211.1 L123.3,210.9 L124.0,210.7 L124.7,210.5 L125.4,210.3 L126.1,210.2 L126.8,210.0 L127.5,209.8 L128.2,209.6 L128.9,209.4 L129.6,209.3 L130.3,209.1 L131.0,208.9 L131.7,208.8 L132.4,208.6 L133.1,208.4 L133.8,208.3 L134.5,208.1 L135.2,208.0 L135.9,207.8 L136.6,207.6 L137.3,207.5 L138.0,207.3 L138.7,207.2 L139.4,207.0 L140.1,206.9 L140.8,206.8 L141.5,206.6 L142.3,206.5 L143.0,206.3 L143.7,206.2 L144.4,206.1 L145.1,205.9 L145.8,205.8 L146.5,205.6 L147.2,205.5 L147.9,205.4 L148.6,205.3 L149.3,205.1 L150.0,205.0 L150.7,204.9 L151.4,204.7 L152.1,204.6 L152.9,204.5 L153.6,204.4 L154.3,204.2 L155.0,204.1 L155.7,204.0 L156.4,203.9 L157.1,203.7 L157.8,203.6 L158.5,203.5 L159.2,203.4 L159.9,203.2 L160.6,203.1 L161.4,203.0 L162.1,202.9 L162.8,202.8 L163.5,202.6 L164.2,202.5 L164.9,202.4 L165.6,202.3 L166.3,202.2 L167.0,202.0 L167.7,201.9 L168.5,201.8 L169.2,201.7 L169.9,201.5 L170.6,201.4 L171.3,201.3 L172.0,201.2 L172.7,201.0 L173.4,200.9 L174.1,200.8 L174.9,200.7 L175.6,200.5 L176.3,200.4 L177.0,200.3 L177.7,200.1 L178.4,200.0 L179.1,199.9 L179.8,199.8 L180.5,199.6 L181.2,199.5 L182.0,199.3 L182.7,199.2 L183.4,199.1 L184.1,198.9 L184.8,198.8 L185.5,198.6 L186.2,198.5 L186.9,198.4 L187.6,198.2 L188.4,198.1 L189.1,197.9 L189.8,197.8 L190.5,197.6 L191.2,197.4 L191.9,197.3 L192.6,197.1 L193.3,197.0 L194.0,196.8 L194.7,196.6 L195.4,196.5 L196.1,196.3 L196.8,196.1 L197.5,195.9 L198.2,195.7 L198.9,195.6 L199.6,195.4 L200.3,195.2 L201.0,195.0 L201.7,194.8 L202.4,194.6 L203.1,194.4 L203.8,194.2 L204.5,194.0 L205.2,193.7 L205.8,193.5 L206.5,193.3 L207.2,193.1 L207.9,192.8 L208.6,192.6 L209.2,192.3 L209.9,192.1 L210.6,191.8 L211.3,191.6 L211.9,191.3 L212.6,191.1 L213.2,190.8 L213.9,190.5 L214.6,190.2 L215.2,189.9 L215.9,189.6 L216.5,189.3 L217.2,189.0 L217.8,188.7 L218.5,188.4 L219.1,188.1 L219.7,187.8 L220.4,187.4 L221.0,187.1 L221.6,186.8 L222.3,186.4 L222.9,186.1 L223.5,185.7 L224.1,185.4 L224.8,185.0 L225.4,184.7 L226.0,184.3 L226.6,183.9 L227.2,183.6 L227.9,183.2 L228.5,182.8 L229.1,182.4 L229.7,182.1 L230.3,181.7 L230.9,181.3 L231.5,180.9 L232.1,180.5 L232.8,180.1 L233.4,179.7 L234.0,179.3 L234.6,178.9 L235.2,178.5 L235.8,178.1 L236.4,177.7 L237.0,177.3 L237.6,176.9 L238.2,176.5 L238.8,176.1 L239.4,175.7 L240.0,175.3 L240.6,174.9 L241.2,174.5 L241.8,174.1 L242.4,173.7 L243.0,173.3 L243.6,172.8 L244.2,172.4 L244.8,172.0 L245.4,171.6 L246.1,171.2 L246.7,170.8 L247.3,170.4 L247.9,170.0 L248.5,169.6 L249.1,169.3 L249.7,168.9 L250.4,168.5 L251.0,168.2 L251.6,167.8 L252.2,167.5 L252.9,167.2 L253.5,166.9 L254.2,166.6 L254.8,166.3 L255.5,166.0 L256.1,165.8 L256.8,165.6 L257.5,165.4 L258.2,165.2 L258.9,165.0 L259.5,164.9 L260.2,164.8 L261.0,164.7 L261.7,164.6 L262.4,164.5 L263.1,164.5 L263.8,164.5 L264.5,164.5 L265.2,164.5 L266.0,164.5 L266.7,164.5 L267.4,164.6 L268.1,164.7 L268.8,164.8 L269.6,164.9 L270.3,165.0 L271.0,165.1 L271.7,165.3 L272.4,165.5 L273.1,165.6 L273.8,165.8 L274.5,166.0 L275.1,166.2 L275.8,166.5 L276.5,166.7 L277.1,167.0 L277.8,167.2 L278.5,167.5 L279.1,167.8 L279.8,168.1 L280.4,168.4 L281.0,168.7 L281.7,169.0 L282.3,169.3 L282.9,169.7 L283.5,170.0 L284.2,170.4 L284.8,170.7 L285.4,171.1 L286.0,171.5 L286.6,171.9 L287.2,172.3 L287.8,172.7 L288.4,173.1 L289.0,173.5 L289.6,173.9 L290.2,174.3 L290.8,174.7 L291.4,175.1 L292.0,175.6 L292.6,176.0 L293.1,176.5 L293.7,176.9 L294.3,177.3 L294.9,177.8 L295.5,178.2 L296.0,178.7 L296.6,179.2 L297.2,179.6 L297.8,180.1 L298.3,180.5 L298.9,181.0 L299.5,181.5 L300.1,181.9 L300.6,182.4 L301.2,182.8 L301.8,183.3 L302.3,183.7 L302.9,184.2 L303.5,184.7 L304.1,185.1 L304.6,185.6 L305.2,186.0 L305.8,186.5 L306.4,186.9 L307.0,187.3 L307.5,187.8 L308.1,188.2 L308.7,188.7 L309.3,189.1 L309.8,189.5 L310.4,190.0 L311.0,190.4 L311.6,190.8 L312.2,191.2 L312.8,191.7 L313.4,192.1 L313.9,192.5 L314.5,192.9 L315.1,193.3 L315.7,193.7 L316.3,194.1 L316.9,194.5 L317.5,194.9 L318.1,195.3 L318.7,195.7 L319.3,196.1 L319.9,196.5 L320.5,196.9 L321.1,197.3 L321.7,197.7 L322.3,198.0 L322.9,198.4 L323.5,198.8 L324.1,199.2 L324.8,199.5 L325.4,199.9 L326.0,200.2 L326.6,200.6 L327.2,201.0 L327.8,201.3 L328.5,201.6 L329.1,202.0 L329.7,202.3 L330.4,202.7 L331.0,203.0 L331.6,203.3 L332.3,203.6 L332.9,204.0 L333.5,204.3 L334.2,204.6 L334.8,204.9 L335.5,205.2 L336.1,205.5 L336.8,205.8 L337.4,206.1 L338.1,206.4 L338.7,206.7 L339.4,207.0 L340.1,207.2 L340.7,207.5 L341.4,207.8 L342.1,208.0 L342.7,208.3 L343.4,208.6 L344.1,208.8 L344.8,209.1 L345.4,209.3 L346.1,209.6 L346.8,209.8 L347.5,210.1 L348.2,210.3 L348.8,210.6 L349.5,210.8 L350.2,211.0 L350.9,211.3 L351.6,211.5 L352.3,211.7 L353.0,211.9 L353.7,212.2 L354.3,212.4 L355.0,212.6 L355.7,212.8 L356.4,213.0 L357.1,213.2 L357.8,213.4 L358.5,213.6 L359.2,213.9 L359.9,214.1 L360.6,214.3 L361.3,214.5 L362.0,214.7 L362.7,214.9 L363.4,215.1 L364.1,215.2 L364.8,215.4 L365.5,215.6 L366.2,215.8 L366.9,216.0 L367.6,216.2 L368.3,216.4 L369.0,216.6 L369.7,216.8 L370.4,216.9 L371.1,217.1 L371.8,217.3 L372.5,217.5 L373.2,217.7 L373.9,217.9 L374.6,218.0 L375.3,218.2 L376.0,218.4 L376.7,218.6 L377.4,218.8 L378.1,219.0 L378.8,219.1 L379.5,219.3 L380.2,219.5 L380.9,219.7 L381.6,219.9 L382.3,220.0 L382.9,220.2 L383.6,220.4 L384.3,220.6 L385.0,220.8 L385.7,221.0 L386.4,221.1 L387.1,221.3" stroke="#ff0000" stroke-dasharray="6.95 3.47"/>
<path d="M86.3,226.9 L87.0,226.9 L87.8,226.9 L88.5,226.9 L89.3,226.9 L90.0,226.8 L90.8,226.8 L91.5,226.8 L92.2,226.7 L93.0,226.7 L93.7,226.6 L94.4,226.6 L95.2,226.5 L95.9,226.5 L96.6,226.4 L97.4,226.3 L98.1,226.3 L98.8,226.2 L99.6,226.1 L100.3,226.0 L101.0,225.9 L101.8,225.8 L102.5,225.7 L103.2,225.6 L103.9,225.5 L104.7,225.4 L105.4,225.3 L106.1,225.2 L106.8,225.1 L107.6,225.0 L108.3,224.9 L109.0,224.8 L109.7,224.6 L110.5,224.5 L111.2,224.4 L111.9,224.3 L112.6,224.1 L113.4,224.0 L114.1,223.9 L114.8,223.7 L115.5,223.6 L116.2,223.4 L117.0,223.3 L117.7,223.2 L118.4,223.0 L119.1,222.9 L119.9,222.7 L120.6,222.6 L121.3,222.4 L122.0,222.3 L122.7,222.1 L123.5,222.0 L124.2,221.8 L124.9,221.6 L125.6,221.5 L126.4,221.3 L127.1,221.2 L127.8,221.0 L128.5,220.9 L129.2,220.7 L130.0,220.6 L130.7,220.4 L131.4,220.2 L132.1,220.1 L132.9,219.9 L133.6,219.8 L134.3,219.6 L135.0,219.4 L135.8,219.3 L136.5,219.1 L137.2,219.0 L137.9,218.8 L138.7,218.6 L139.4,218.4 L140.1,218.3 L140.8,218.1 L141.5,217.9 L142.3,217.7 L143.0,217.5 L143.7,217.4 L144.4,217.2 L145.1,217.0 L145.8,216.8 L146.5,216.6 L147.2,216.4 L147.9,216.1 L148.6,215.9 L149.3,215.7 L150.0,215.5 L150.7,215.2 L151.4,215.0 L152.1,214.7 L152.8,214.5 L153.5,214.2 L154.2,214.0 L154.9,213.7 L155.5,213.4 L156.2,213.1 L156.9,212.8 L157.5,212.5 L158.2,212.2 L158.9,211.9 L159.5,211.6 L160.2,211.3 L160.8,210.9 L161.5,210.6 L162.1,210.2 L162.7,209.9 L163.4,209.5 L164.0,209.1 L164.6,208.7 L165.3,208.4 L165.9,208.0 L166.5,207.6 L167.1,207.2 L167.7,206.7 L168.4,206.3 L169.0,205.9 L169.6,205.5 L170.2,205.1 L170.8,204.6 L171.4,204.2 L172.0,203.7 L172.6,203.3 L173.2,202.9 L173.8,202.4 L174.3,202.0 L174.9,201.5 L175.5,201.0 L176.1,200.6 L176.7,200.1 L177.3,199.7 L177.9,199.2 L178.4,198.8 L179.0,198.3 L179.6,197.8 L180.2,197.4 L180.7,196.9 L181.3,196.4 L181.9,196.0 L182.5,195.5 L183.0,195.0 L183.6,194.6 L184.2,194.1 L184.7,193.6 L185.3,193.1 L185.8,192.6 L186.4,192.2 L186.9,191.7 L187.5,191.2 L188.0,190.7 L188.6,190.2 L189.1,189.7 L189.6,189.2 L190.2,188.7 L190.7,188.2 L191.2,187.7 L191.7,187.2 L192.2,186.6 L192.7,186.1 L193.2,185.6 L193.7,185.1 L194.2,184.5 L194.7,184.0 L195.2,183.4 L195.7,182.9 L196.2,182.3 L196.7,181.8 L197.2,181.2 L197.6,180.7 L198.1,180.1 L198.6,179.5 L199.0,179.0 L199.5,178.4 L199.9,177.8 L200.4,177.2 L200.8,176.7 L201.3,176.1 L201.7,175.5 L202.2,174.9 L202.6,174.3 L203.1,173.7 L203.5,173.1 L203.9,172.5 L204.4,171.9 L204.8,171.3 L205.2,170.7 L205.7,170.1 L206.1,169.5 L206.5,168.9 L206.9,168.3 L207.4,167.7 L207.8,167.1 L208.2,166.5 L208.6,165.9 L209.0,165.3 L209.5,164.7 L209.9,164.0 L210.3,163.4 L210.7,162.8 L211.1,162.2 L211.5,161.6 L211.9,161.0 L212.4,160.3 L212.8,159.7 L213.2,159.1 L213.6,158.5 L214.0,157.9 L214.4,157.3 L214.8,156.6 L215.3,156.0 L215.7,155.4 L216.1,154.8 L216.5,154.2 L216.9,153.6 L217.3,152.9 L217.8,152.3 L218.2,151.7 L218.6,151.1 L219.0,150.5 L219.4,149.9 L219.9,149.3 L220.3,148.7 L220.7,148.1 L221.2,147.5 L221.6,146.9 L222.1,146.3 L222.5,145.8 L223.0,145.2 L223.4,144.6 L223.9,144.0 L224.4,143.5 L224.9,142.9 L225.4,142.4 L225.8,141.8 L226.4,141.3 L226.9,140.8 L227.4,140.3 L227.9,139.8 L228.4,139.3 L229.0,138.8 L229.5,138.3 L230.1,137.8 L230.7,137.4 L231.3,136.9 L231.9,136.5 L232.5,136.0 L233.1,135.6 L233.7,135.2 L234.4,134.8 L235.0,134.5 L235.7,134.1 L236.4,133.8 L237.0,133.5 L237.7,133.2 L238.4,132.9 L239.1,132.7 L239.8,132.5 L240.5,132.4 L241.2,132.2 L241.9,132.2 L242.6,132.1 L243.4,132.1 L244.1,132.1 L244.8,132.2 L245.5,132.3 L246.2,132.5 L246.9,132.7 L247.6,132.9 L248.3,133.2 L249.0,133.4 L249.6,133.8 L250.3,134.1 L251.0,134.5 L251.6,134.8 L252.3,135.2 L252.9,135.7 L253.5,136.1 L254.1,136.6 L254.7,137.0 L255.3,137.5 L255.9,138.0 L256.4,138.5 L257.0,139.0 L257.5,139.6 L258.0,140.1 L258.6,140.6 L259.1,141.2 L259.6,141.7 L260.1,142.2 L260.6,142.8 L261.1,143.3 L261.6,143.9 L262.1,144.4 L262.5,145.0 L263.0,145.6 L263.5,146.1 L264.0,146.7 L264.5,147.2 L264.9,147.8 L265.4,148.4 L265.9,148.9 L266.3,149.5 L266.8,150.1 L267.2,150.6 L267.7,151.2 L268.2,151.8 L268.6,152.4 L269.1,152.9 L269.5,153.5 L270.0,154.1 L270.5,154.7 L270.9,155.2 L271.4,155.8 L271.8,156.4 L272.3,156.9 L272.8,157.5 L273.2,158.1 L273.7,158.6 L274.2,159.2 L274.6,159.8 L275.1,160.3 L275.6,160.9 L276.0,161.5 L276.5,162.0 L277.0,162.6 L277.5,163.1 L278.0,163.7 L278.5,164.2 L278.9,164.8 L279.4,165.3 L279.9,165.9 L280.4,166.4 L280.9,167.0 L281.4,167.5 L281.9,168.1 L282.4,168.6 L282.9,169.2 L283.4,169.7 L283.9,170.3 L284.4,170.8 L284.9,171.3 L285.4,171.9 L285.9,172.4 L286.5,172.9 L287.0,173.5 L287.5,174.0 L288.0,174.5 L288.5,175.1 L289.0,175.6 L289.5,176.1 L290.1,176.7 L290.6,177.2 L291.1,177.7 L291.6,178.2 L292.1,178.7 L292.7,179.3 L293.2,179.8 L293.7,180.3 L294.2,180.8 L294.8,181.3 L295.3,181.9 L295.8,182.4 L296.3,182.9 L296.9,183.4 L297.4,183.9 L297.9,184.4 L298.5,184.9 L299.0,185.5 L299.5,186.0 L300.1,186.5 L300.6,187.0 L301.1,187.5 L301.6,188.0 L302.2,188.5 L302.7,189.0 L303.3,189.5 L303.8,189.9 L304.4,190.4 L304.9,190.9 L305.5,191.4 L306.1,191.8 L306.7,192.3 L307.2,192.7 L307.8,193.1 L308.4,193.6 L309.0,194.0 L309.7,194.4 L310.3,194.8 L310.9,195.2 L311.5,195.6 L312.1,196.0 L312.8,196.4 L313.4,196.8 L314.0,197.1 L314.7,197.5 L315.3,197.9 L316.0,198.2 L316.6,198.6 L317.2,199.0 L317.9,199.3 L318.5,199.7 L319.2,200.0 L319.9,200.3 L320.5,200.7 L321.2,201.0 L321.8,201.4 L322.5,201.7 L323.1,202.0 L323.8,202.3 L324.5,202.6 L325.1,203.0 L325.8,203.3 L326.5,203.6 L327.2,203.9 L327.8,204.2 L328.5,204.5 L329.2,204.8 L329.9,205.1 L330.5,205.4 L331.2,205.6 L331.9,205.9 L332.6,206.2 L333.3,206.5 L333.9,206.8 L334.6,207.0 L335.3,207.3 L336.0,207.6 L336.7,207.8 L337.4,208.1 L338.1,208.4 L338.8,208.6 L339.5,208.9 L340.1,209.1 L340.8,209.4 L341.5,209.6 L342.2,209.8 L342.9,210.1 L343.6,210.3 L344.3,210.6 L345.0,210.8 L345.7,211.0 L346.4,211.2 L347.1,211.5 L347.8,211.7 L348.5,211.9 L349.2,212.1 L349.9,212.4 L350.6,212.6 L351.4,212.8 L352.1,213.0 L352.8,213.2 L353.5,213.4 L354.2,213.6 L354.9,213.8 L355.6,214.0 L356.3,214.2 L357.0,214.4 L357.7,214.6 L358.4,214.8 L359.1,215.0 L359.9,215.2 L360.6,215.4 L361.3,215.6 L362.0,215.8 L362.7,216.0 L363.4,216.2 L364.1,216.3 L364.9,216.5 L365.6,216.7 L366.3,216.9 L367.0,217.1 L367.7,217.3 L368.4,217.4 L369.2,217.6 L369.9,217.8 L370.6,218.0 L371.3,218.1 L372.0,218.3 L372.7,218.5 L373.5,218.6 L374.2,218.8 L374.9,219.0 L375.6,219.2 L376.3,219.3 L377.0,219.5 L377.8,219.7 L378.5,219.8 L379.2,220.0 L379.9,220.2 L380.6,220.3 L381.4,220.5 L382.1,220.7 L382.8,220.8 L383.5,221.0 L384.2,221.1 L384.9,221.3 L385.7,221.5 L386.4,221.6 L387.1,221.8" stroke="#ff0000"/>
</g>
<rect x="52.6" y="5.9" width="334.5" height="229.4" fill="none" stroke="#222" stroke-width="1"/>
<path d="M52.60,235.3v-3.5M52.60,5.9v3.5M69.33,235.3v-2.0M69.33,5.9v2.0M86.05,235.3v-2.0M86.05,5.9v2.0M102.78,235.3v-2.0M102.78,5.9v2.0M119.50,235.3v-3.5M119.50,5.9v3.5M136.22,235.3v-2.0M136.22,5.9v2.0M152.95,235.3v-2.0M152.95,5.9v2.0M169.68,235.3v-2.0M169.68,5.9v2.0M186.40,235.3v-3.5M186.40,5.9v3.5M203.12,235.3v-2.0M203.12,5.9v2.0M219.85,235.3v-2.0M219.85,5.9v2.0M236.58,235.3v-2.0M236.58,5.9v2.0M253.30,235.3v-3.5M253.30,5.9v3.5M270.03,235.3v-2.0M270.03,5.9v2.0M286.75,235.3v-2.0M286.75,5.9v2.0M303.48,235.3v-2.0M303.48,5.9v2.0M320.20,235.3v-3.5M320.20,5.9v3.5M336.93,235.3v-2.0M336.93,5.9v2.0M353.65,235.3v-2.0M353.65,5.9v2.0M370.38,235.3v-2.0M370.38,5.9v2.0M387.10,235.3v-3.5M387.10,5.9v3.5M52.6,235.30h4.3M387.1,235.30h-4.3M52.6,223.83h2.6M387.1,223.83h-2.6M52.6,212.36h2.6M387.1,212.36h-2.6M52.6,200.89h2.6M387.1,200.89h-2.6M52.6,189.42h4.3M387.1,189.42h-4.3M52.6,177.95h2.6M387.1,177.95h-2.6M52.6,166.48h2.6M387.1,166.48h-2.6M52.6,155.01h2.6M387.1,155.01h-2.6M52.6,143.54h4.3M387.1,143.54h-4.3M52.6,132.07h2.6M387.1,132.07h-2.6M52.6,120.60h2.6M387.1,120.60h-2.6M52.6,109.13h2.6M387.1,109.13h-2.6M52.6,97.66h4.3M387.1,97.66h-4.3M52.6,86.19h2.6M387.1,86.19h-2.6M52.6,74.72h2.6M387.1,74.72h-2.6M52.6,63.25h2.6M387.1,63.25h-2.6M52.6,51.78h4.3M387.1,51.78h-4.3M52.6,40.31h2.6M387.1,40.31h-2.6M52.6,28.84h2.6M387.1,28.84h-2.6M52.6,17.37h2.6M387.1,17.37h-2.6M52.6,5.90h4.3M387.1,5.90h-4.3" stroke="#222" stroke-width="1" fill="none"/>
<path d="M70,17.4H108.2" stroke="#00ff00" stroke-width="2" stroke-dasharray="7 3.5"/>
<text x="117.2" y="22.0" font-size="14.4">RW vacuum</text>
<path d="M70,33.2H108.2" stroke="#00ff00" stroke-width="2"/>
<text x="117.2" y="37.8" font-size="14.4">EK vacuum</text>
<path d="M70,49.1H108.2" stroke="#0000ff" stroke-width="2" stroke-dasharray="7 3.5"/>
<text x="117.2" y="53.7" font-size="14.4">RW, <tspan font-size="15.4">ρ</tspan><tspan dy="2.9" font-size="12.3">N</tspan><tspan dy="0.7" font-size="13.2">=</tspan><tspan dy="-3.6" font-size="15.4">ρ</tspan><tspan dy="2.9" font-size="12.3">0</tspan><tspan dy="-2.9">/2</tspan></text>
<path d="M70,64.9H108.2" stroke="#0000ff" stroke-width="2"/>
<text x="117.2" y="69.5" font-size="14.4">EK, <tspan font-size="15.4">ρ</tspan><tspan dy="2.9" font-size="12.3">N</tspan><tspan dy="0.7" font-size="13.2">=</tspan><tspan dy="-3.6" font-size="15.4">ρ</tspan><tspan dy="2.9" font-size="12.3">0</tspan><tspan dy="-2.9">/2</tspan></text>
<path d="M70,80.8H108.2" stroke="#ff0000" stroke-width="2" stroke-dasharray="7 3.5"/>
<text x="117.2" y="85.4" font-size="14.4">RW, <tspan font-size="15.4">ρ</tspan><tspan dy="2.9" font-size="12.3">N</tspan><tspan dy="0.7" font-size="13.2">=</tspan><tspan dy="-3.6" font-size="15.4">ρ</tspan><tspan dy="2.9" font-size="12.3">0</tspan></text>
<path d="M70,96.6H108.2" stroke="#ff0000" stroke-width="2"/>
<text x="117.2" y="101.2" font-size="14.4">EK, <tspan font-size="15.4">ρ</tspan><tspan dy="2.9" font-size="12.3">N</tspan><tspan dy="0.7" font-size="13.2">=</tspan><tspan dy="-3.6" font-size="15.4">ρ</tspan><tspan dy="2.9" font-size="12.3">0</tspan></text>
<text x="44.3" y="240.5" font-size="14.4" text-anchor="end">0</text>
<text x="44.3" y="194.6" font-size="14.4" text-anchor="end">2</text>
<text x="44.3" y="148.7" font-size="14.4" text-anchor="end">4</text>
<text x="44.3" y="102.9" font-size="14.4" text-anchor="end">6</text>
<text x="44.3" y="57.0" font-size="14.4" text-anchor="end">8</text>
<text x="44.3" y="11.1" font-size="14.4" text-anchor="end">10</text>
<text x="54.3" y="254.8" font-size="14.4" text-anchor="middle">0.2</text>
<text x="121.2" y="254.8" font-size="14.4" text-anchor="middle">0.4</text>
<text x="188.1" y="254.8" font-size="14.4" text-anchor="middle">0.6</text>
<text x="255.0" y="254.8" font-size="14.4" text-anchor="middle">0.8</text>
<text x="321.9" y="254.8" font-size="14.4" text-anchor="middle">1</text>
<text x="388.8" y="254.8" font-size="14.4" text-anchor="middle">1.2</text>
<text x="220" y="277.3" font-size="14.4" text-anchor="middle">M (GeV)</text>
<text x="63.5" y="136.4" font-size="14.4" textLength="147.4" lengthAdjust="spacing">T=100 MeV, q=350 MeV</text>
<text transform="translate(15.8,166) rotate(-90)" font-size="14.4">-Im D<tspan dy="3.9" font-size="12.5">ρ</tspan><tspan dy="-3.9"> (GeV</tspan><tspan dy="-6.8" font-size="12">-2</tspan><tspan dy="6.8">)</tspan></text>
</svg>
</body></html>
